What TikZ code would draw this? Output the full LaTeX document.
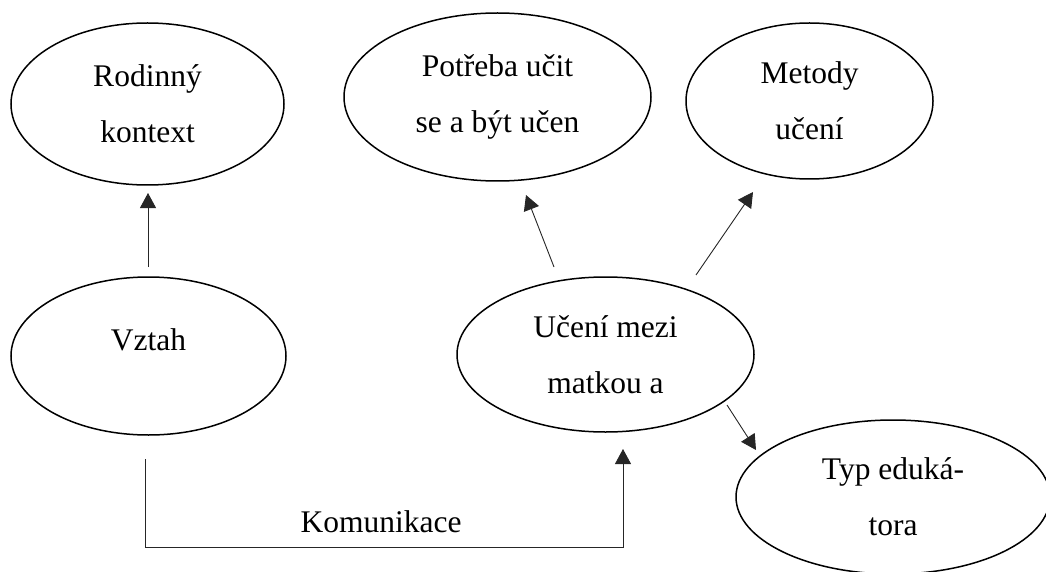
\documentclass[tikz,border=0pt]{standalone}
\usepackage{fontspec}
\setmainfont{Liberation Serif}
\usetikzlibrary{shapes.geometric,arrows.meta}
\begin{document}
\begin{tikzpicture}[x=1pt,y=-1pt,
  ell/.style={ellipse,draw,line width=1.5pt,inner sep=0pt,align=center,
    font=\fontsize{31.5}{56}\selectfont},
  conn/.style={line width=0.9pt,draw=black!85},
  arr/.style={conn,-{Triangle[width=16pt,length=15pt]}},
  lbl/.style={font=\fontsize{31.5}{56}\selectfont,inner sep=0pt,anchor=base}]
\useasboundingbox (0,0) rectangle (1046,572);
\node[ell,minimum width=273pt,minimum height=162pt] (rod) at (147.5,104) {Rodinný\\kontext};
\node[ell,minimum width=307pt,minimum height=168pt] (pot) at (497.5,97) {Potřeba učit\\se a být učen};
\node[ell,minimum width=247pt,minimum height=156pt] (met) at (809.5,101) {Metody\\učení};
\node[ell,minimum width=275pt,minimum height=158pt] (vzt) at (148.5,356) {\raisebox{6pt}[0pt][0pt]{Vztah}};
\node[ell,minimum width=297pt,minimum height=155pt] (uce) at (605.5,354.5) {Učení mezi\\matkou a};
\node[ell,minimum width=314pt,minimum height=154pt] (typ) at (893,497) {Typ eduká-\\tora};
% connector end points (gaps to ellipses)
\coordinate (rodS) at (148,267);
\coordinate (rodE) at (148,193);
\coordinate (potS) at (554,267);
\coordinate (potE) at (526,195);
\coordinate (metS) at (696,275);
\coordinate (metE) at (753,192);
\coordinate (typS) at (727,405);
\coordinate (typE) at (756,450);
\coordinate (komS) at (145,459);
\coordinate (komA) at (145,547);
\coordinate (komB) at (623,547);
\coordinate (komE) at (623,449);
\draw[arr] (rodS) -- (rodE);
\draw[arr] (potS) -- (potE);
\draw[arr] (metS) -- (metE);
\draw[arr] (typS) -- (typE);
\draw[arr] (komS) -- (komA) -- (komB) -- (komE);
\node[lbl] (kom) at (381,532) {Komunikace};
\end{tikzpicture}
\end{document}
